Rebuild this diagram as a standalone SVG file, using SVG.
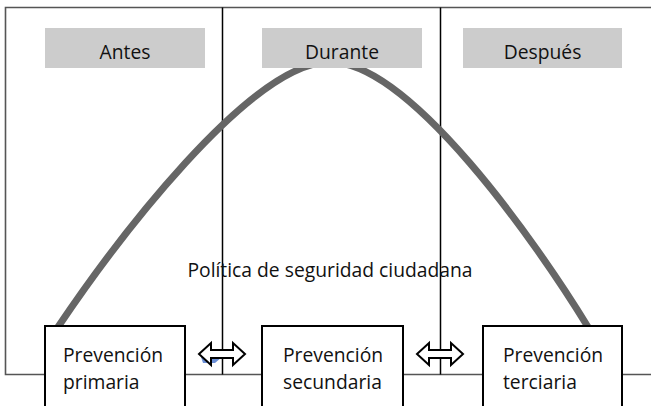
<svg xmlns="http://www.w3.org/2000/svg" width="651" height="406" viewBox="0 0 651 406">
<defs>
<style>
.lbl{font-family:"Open Sans","Noto Sans","Liberation Sans",sans-serif;font-size:19.3px;fill:#111}
.head{fill:#cccccc}
.box{fill:#fff;stroke:#000;stroke-width:2}
.frame{fill:none;stroke:#555;stroke-width:1.6}
.div{fill:none;stroke:#000;stroke-width:1.5}
.arr{fill:#fff;stroke:#000;stroke-width:2;stroke-linejoin:miter}
</style>
<polygon id="dblarrow" class="arr" points="-23,0 -11,-11 -11,-4 11,-4 11,-11 23,0 11,11 11,4 -11,4 -11,11"/>
</defs>
<rect width="651" height="406" fill="#fff"/>
<g id="connectors">
<path class="frame" d="M651,7.5 H5.5 V374.5 H651"/>
<line class="div" x1="222.5" y1="7.5" x2="222.5" y2="374.5"/>
<line class="div" x1="440.5" y1="7.5" x2="440.5" y2="374.5"/>
<path id="curve" fill="none" stroke="#666" stroke-width="7" d="M58,327 C114,244 250,62 330,62 C410,62 536,242 588,327"/>
<polygon points="201,357 222,357 215,363 203,363" fill="#6b8fd6"/>
<use href="#dblarrow" x="222" y="354"/>
<use href="#dblarrow" x="440" y="354"/>
</g>
<g id="antes"><rect class="head" x="45" y="28" width="160" height="40"/><text class="lbl" x="125" y="59" text-anchor="middle">Antes</text></g>
<g id="durante"><rect class="head" x="262" y="28" width="160" height="40"/><text class="lbl" x="342" y="59" text-anchor="middle">Durante</text></g>
<g id="despues"><rect class="head" x="463" y="28" width="159" height="40"/><text class="lbl" x="542.5" y="59" text-anchor="middle">Después</text></g>
<g id="politica"><text class="lbl" x="330" y="277" text-anchor="middle">Política de seguridad ciudadana</text></g>
<g id="primaria"><rect class="box" x="45" y="326" width="140" height="90"/><text class="lbl" x="63" y="362">Prevención</text><text class="lbl" x="63" y="389">primaria</text></g>
<g id="secundaria"><rect class="box" x="262" y="326" width="141" height="90"/><text class="lbl" x="283" y="362">Prevención</text><text class="lbl" x="283" y="389">secundaria</text></g>
<g id="terciaria"><rect class="box" x="483" y="326" width="139" height="90"/><text class="lbl" x="503" y="362">Prevención</text><text class="lbl" x="503" y="389">terciaria</text></g>
</svg>
